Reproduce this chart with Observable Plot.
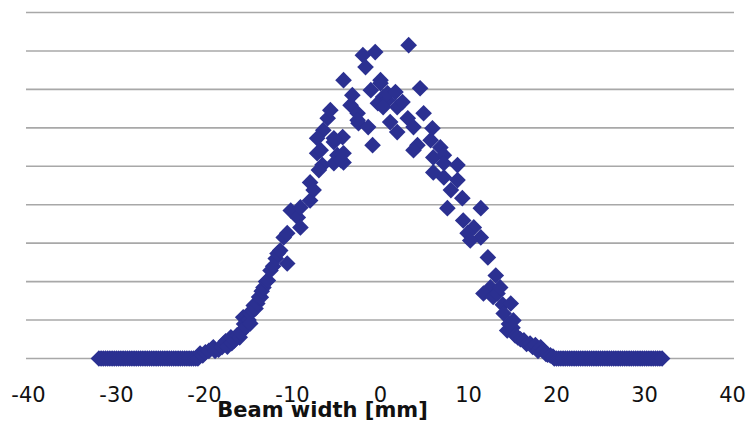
<!DOCTYPE html>
<html><head><meta charset="utf-8">
<script src="https://cdn.jsdelivr.net/npm/d3@7"></script>
<script src="https://cdn.jsdelivr.net/npm/@observablehq/plot@0.6"></script>
<style>body{margin:0;background:#fff}</style>
</head><body><div id="chart"></div>
<script>
const flatLeftX = [-32,-31.75,-31.5,-31.25,-31,-30.75,-30.5,-30.25,-30,-29.75,-29.5,-29.25,-29,-28.75,-28.5,-28.25,-28,-27.75,-27.5,-27.25,-27,-26.75,-26.5,-26.25,-26,-25.75,-25.5,-25.25,-25,-24.75,-24.5,-24.25,-24,-23.75,-23.5,-23.25,-23,-22.75,-22.5,-22.25,-22,-21.75,-21.5,-21.25,-21,-20.75];
const flatRightX = [19.75,20,20.25,20.5,20.75,21,21.25,21.5,21.75,22,22.25,22.5,22.75,23,23.25,23.5,23.75,24,24.25,24.5,24.75,25,25.25,25.5,25.75,26,26.25,26.5,26.75,27,27.25,27.5,27.75,28,28.25,28.5,28.75,29,29.25,29.5,29.75,30,30.25,30.5,30.75,31,31.25,31.5,31.75,32];
const flatY = 0;
const curveX = [-20.5,-20.2,-19.9,-19.5,-19.0,-18.8,-18.4,-18.0,-17.8,-17.6,-17.4,-17.0,-16.9,-16.6,-16.3,-16.0,-15.9,-15.6,-15.5,-15.3,-15.0,-14.8,-14.8,-14.6,-14.4,-14.2,-14.0,-13.8,-13.6,-13.5,-13.3,-13.0,-12.8,-12.5,-12.2,-11.9,-11.7,-11.4,-10.6,-11.0,-10.6,-10.2,-9.4,-9.1,-9.1,-8.0,-8.0,-7.6,-7.2,-6.6,-6.8,-7.0,-6.5,-7.2,-6.0,-5.7,-5.3,-4.9,-5.3,-4.2,-4.3,-4.2,-4.5,-3.4,-3.2,-2.6,-2.5,-2.0,-1.7,-0.6,-1.4,-0.9,-1.1,0.0,0.3,-0.3,-2.6,-5.3,-4.2,0.8,1.9,0.0,
  3.2,0.8,1.7,0.3,2.5,4.5,1.1,1.9,3.1,4.9,3.75,5.9,4.2,5.7,6.8,6.0,7.2,3.75,7.2,8.75,6.0,7.2,8.75,8.0,9.3,7.6,11.4,9.4,10.6,9.9,11.4,10.2,12.2,13.1,12.5,11.7,12.8,13.3,13.6,13.9,14.8,14.0,14.6,15.1,15.0,14.4,15.3,15.6,15.9,16.3,16.6,17.0,17.3,17.6,17.9,18.2,18.5,18.8,19.0,19.3,19.6];
const curveY = [0.13,0.08,0.16,0.2,0.29,0.2,0.23,0.3,0.39,0.45,0.31,0.55,0.4,0.47,0.6,0.55,0.68,1.07,0.9,0.81,1.0,1.17,0.91,1.25,1.38,1.3,1.43,1.6,1.59,1.75,1.85,2.0,2.03,2.29,2.4,2.6,2.73,2.81,2.47,3.15,3.26,3.85,3.67,3.41,3.93,4.11,4.58,4.38,5.34,5.03,5.42,4.9,5.94,5.73,6.25,6.46,5.63,5.29,5.08,5.10,5.76,7.24,5.16,6.59,6.85,6.38,6.12,7.89,7.58,7.97,6.02,5.55,6.98,7.24,6.80,6.64,6.2,5.73,5.34,6.72,6.54,7.16,
  8.15,6.90,6.93,6.54,6.67,7.03,6.15,5.89,6.25,6.38,6.02,5.99,5.55,5.68,5.49,5.23,5.29,5.42,5.08,5.03,4.84,4.71,4.64,4.38,4.17,3.91,3.91,3.59,3.41,3.26,3.15,3.07,2.63,2.16,1.85,1.69,1.6,1.69,1.85,1.4,1.43,1.17,0.9,0.99,0.8,0.73,0.6,0.55,0.5,0.47,0.38,0.39,0.3,0.35,0.2,0.29,0.21,0.12,0.1,0.08,0.05];
const xTicks = [-40,-30,-20,-10,0,10,20,30,40];
const yGrid = [0,1,2,3,4,5,6,7,8,9];
const xLabel = "Beam width [mm]";

const data = [
  ...flatLeftX.map(x => ({x, y: flatY})),
  ...curveX.map((x, i) => ({x, y: curveY[i]})),
  ...flatRightX.map(x => ({x, y: flatY}))
];

const chart = Plot.plot({
  width: 748, height: 424,
  marginTop: 12, marginBottom: 66, marginLeft: 28, marginRight: 16,
  style: {fontFamily: "DejaVu Sans", fontSize: "21px", background: "#fff", color: "#111"},
  x: {domain: [-40, 40], ticks: xTicks, tickSize: 0, tickPadding: 29, tickFormat: d => String(d), label: null},
  y: {domain: [0, 9], axis: null},
  marks: [
    Plot.ruleY(yGrid, {stroke: "#a8a8a8", strokeWidth: 1.6, insetLeft: -2, insetRight: -2}),
    Plot.dot(data, {x: "x", y: "y", symbol: "diamond2", r: 7.5, fill: "#2b3091"}),
    Plot.text([xLabel], {frameAnchor: "bottom", dx: -58, dy: 52, fontSize: 21, fontWeight: "bold", fill: "#111", lineAnchor: "middle"})
  ]
});
document.getElementById("chart").append(chart);
</script>
</body></html>
